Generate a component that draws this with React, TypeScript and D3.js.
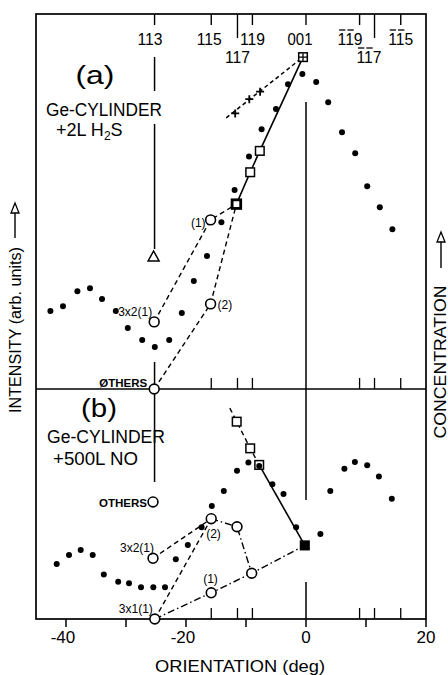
import React from 'react';
import * as d3 from 'd3';

// crystal directions: angle from [001] in deg, label, number of barred digits, label row
const dirAngle = [-25.24, -15.79, -11.42, -8.93, 0, 8.93, 11.42, 15.79];
const dirText = ['113', '115', '117', '119', '001', '119', '117', '115'];
const dirBars = [0, 0, 0, 0, 0, 2, 2, 2];
const dirRow = [0, 0, 1, 0, 0, 0, 1, 0];
const xTickLabels = [-40, -20, 0, 20];

// (a) Ge-cylinder + 2L H2S, intensity (arb. units 0-100)
const aDotDeg = [-42.6, -40.5, -38.1, -36.0, -34.0, -31.7, -29.7, -27.3, -25.2, -22.8, -20.7, -18.7, -16.5, -14.1, -11.9, -9.5, -7.4, -5.0, -3.0, -0.6, 1.7, 3.7, 6.0, 8.2, 10.2, 12.3, 14.4];
const aDotVal = [20.8, 22.1, 26.1, 26.9, 24.0, 20.8, 16.3, 13.1, 11.2, 13.1, 20.3, 28.8, 35.5, 44.5, 53.1, 62.0, 69.3, 74.7, 81.3, 84.0, 81.9, 76.5, 68.5, 62.9, 54.1, 48.5, 42.6];
const aSqDeg = [-11.6, -9.3, -7.7, -0.5];
const aSqVal = [49.3, 57.8, 63.5, 88.5];
const aCrossDeg = [-11.8, -9.45, -7.65];
const aCrossVal = [73.5, 77.3, 79.3];
const aCrossLineDeg = [-13.3, -0.5];
const aCrossLineVal = [72.3, 88.5];
const aCircName = ['3x2(1)', '(1)', '(2)', 'OTHERS'];
const aCircDeg = [-25.3, -15.9, -15.9, -25.3];
const aCircVal = [17.9, 45.1, 22.7, 0];
const aTriangle = [-25.4, 35.2];

// (b) Ge-cylinder + 500L NO
const bDotDeg = [-41.55, -39.5, -37.55, -35.55, -33.7, -31.3, -29.5, -27.5, -25.45, -23.5, -21.7, -19.7, -17.4, -15.7, -13.7, -11.5, -9.6, -7.8, -5.6, -3.75, -1.65, 2.4, 4.05, 6.4, 8.15, 10.2, 12.15, 14.3];
const bDotVal = [23.9, 27.8, 30.0, 27.8, 19.4, 16.2, 15.5, 13.8, 13.8, 13.8, 26.0, 32.2, 39.9, 49.1, 55.7, 64.5, 68.0, 66.5, 58.6, 54.3, 39.9, 37.0, 55.7, 65.3, 68.3, 66.8, 62.0, 52.3];
const bSqDeg = [-11.55, -9.3, -7.8];
const bSqVal = [85.8, 74.2, 67.0];
const bSqLead = [-12.7, 91.7];
const bFilledSq = [-0.2, 32.0];
const bCircName = ['OTHERS', '3x2(1)', '(2)', 'c117', 'c119', '(1)', '3x1(1)'];
const bCircDeg = [-25.5, -25.5, -15.8, -11.5, -9.05, -15.8, -25.2];
const bCircVal = [50.9, 26.4, 43.6, 40.1, 19.9, 11.4, 0];

const W = 448, H = 675;
const LEFT = 36, RIGHT = 426, TOP = 14, MID = 389, BOT = 619;
const FONT = '"Liberation Sans", Arial, sans-serif';
const labelNudge = [-4.5, -2, 0, 0, -6, -9.5, -5.5, 0];
const DASH = '5,3.5';
const DASHDOT = '7,3,1.5,3';

const Txt = ({ x, y, size = 12, anchor = 'start', len, weight = 400, children, transform }: any) => (
  <text x={x} y={y} fontSize={size} textAnchor={anchor} fontWeight={weight} fontFamily={FONT}
    textLength={len} lengthAdjust={len ? 'spacingAndGlyphs' : undefined} transform={transform} fill="#000">
    {children}
  </text>
);

export default function App() {
  const x = d3.scaleLinear().domain([-45, 20]).range([LEFT, RIGHT]);
  const yA = d3.scaleLinear().domain([0, 100]).range([MID, TOP]);
  const yB = d3.scaleLinear().domain([0, 100]).range([BOT, MID]);
  const lineA = d3.line<number[]>().x(d => x(d[0])).y(d => yA(d[1]));
  const lineB = d3.line<number[]>().x(d => x(d[0])).y(d => yB(d[1]));

  const aC = (n: string) => { const i = aCircName.indexOf(n); return [aCircDeg[i], aCircVal[i]]; };
  const bC = (n: string) => { const i = bCircName.indexOf(n); return [bCircDeg[i], bCircVal[i]]; };
  const aSq = aSqDeg.map((d, i) => [d, aSqVal[i]]);
  const bSq = bSqDeg.map((d, i) => [d, bSqVal[i]]);

  const circle = (cx: number, cy: number, k: string) => (
    <circle key={k} cx={cx} cy={cy} r={4.9} fill="#fff" stroke="#000" strokeWidth={1.6} />
  );
  const square = (cx: number, cy: number, k: string, sw = 1.5, fill = '#fff') => (
    <rect key={k} x={cx - 4.3} y={cy - 4.3} width={8.6} height={8.6} fill={fill} stroke="#000" strokeWidth={sw} />
  );
  const s = { stroke: '#000', fill: 'none' };

  const xTicks = x.ticks(7);
  const topLabelLen = 25;

  // guide lines at [113] and [001]
  const x113 = x(dirAngle[0]);
  const x001 = x(dirAngle[4]);

  return (
    <svg width={W} height={H} style={{ position: 'absolute', left: 0, top: 0, display: 'block', background: '#fff' }}>
      {/* frame */}
      <rect x={LEFT} y={TOP} width={RIGHT - LEFT} height={BOT - TOP} {...s} strokeWidth={1.7} />
      <line x1={LEFT} x2={RIGHT} y1={MID} y2={MID} {...s} strokeWidth={1.7} />

      {/* direction ticks: top border, panel divider, bottom axis */}
      {dirAngle.map((a, i) => (
        <g key={'dt' + i}>
          {i !== 4 && <line x1={x(a)} x2={x(a)} y1={TOP} y2={TOP + (dirRow[i] ? 24 : 11)} {...s} strokeWidth={1.4} />}
          {i !== 0 && i !== 4 && <line x1={x(a)} x2={x(a)} y1={MID} y2={MID - 11} {...s} strokeWidth={1.3} />}
          {i !== 0 && i !== 4 && <line x1={x(a)} x2={x(a)} y1={BOT} y2={BOT - 11} {...s} strokeWidth={1.3} />}
        </g>
      ))}
      <line x1={x001} x2={x001} y1={TOP} y2={TOP + 11} {...s} strokeWidth={1.4} />
      {dirText.map((t, i) => {
        const cx = x(dirAngle[i]) + labelNudge[i];
        const by = dirRow[i] ? 63 : 45;
        const dw = topLabelLen / 3;
        const left = cx - topLabelLen / 2;
        return (
          <g key={'dl' + i}>
            <Txt x={cx} y={by} size={17} anchor="middle" len={topLabelLen}>{t}</Txt>
            {d3.range(dirBars[i]).map(j => (
              <line key={j} x1={left + j * dw + 1.5} x2={left + (j + 1) * dw - 0.5} y1={by - 15} y2={by - 15} {...s} strokeWidth={1.3} />
            ))}
          </g>
        );
      })}

      {/* bottom axis */}
      {xTicks.map(v => (
        <line key={'xt' + v} x1={x(v)} x2={x(v)} y1={BOT} y2={BOT + 8} {...s} strokeWidth={1.5} />
      ))}
      {xTickLabels.map(v => (
        <Txt key={'xl' + v} x={x(v) + (v < 0 ? -3 : 0)} y={643} size={17} anchor="middle">{v < 0 ? '-' + Math.abs(v) : String(v)}</Txt>
      ))}
      <Txt x={240} y={672} size={17} anchor="middle" len={170}>ORIENTATION (deg)</Txt>

      {/* side labels */}
      <Txt x={0} y={0} size={16} anchor="middle" len={166} transform="translate(21,330) rotate(-90)">INTENSITY (arb. units)</Txt>
      <line x1={15} x2={15} y1={211} y2={238} {...s} strokeWidth={1.4} />
      <path d="M15,203 L11,213 L19,213 Z" fill="#fff" stroke="#000" strokeWidth={1.3} />
      <Txt x={0} y={0} size={16.5} anchor="middle" len={153} transform="translate(446,362) rotate(-90)">CONCENTRATION</Txt>
      <line x1={441} x2={441} y1={240} y2={268} {...s} strokeWidth={1.4} />
      <path d="M441,232 L437,242 L445,242 Z" fill="#fff" stroke="#000" strokeWidth={1.3} />

      {/* guide lines */}
      <line x1={x113} x2={x113} y1={57} y2={91} {...s} strokeWidth={1.5} />
      <line x1={x113} x2={x113} y1={124} y2={249} {...s} strokeWidth={1.5} />
      <line x1={x113} x2={x113} y1={362} y2={482} {...s} strokeWidth={1.5} />
      <line x1={x001} x2={x001} y1={102} y2={500} {...s} strokeWidth={1.5} />
      <line x1={x001} x2={x001} y1={582} y2={BOT} {...s} strokeWidth={1.5} />

      {/* panel (a) */}
      <Txt x={95} y={84} size={26} anchor="middle" len={39}>(a)</Txt>
      <Txt x={46} y={116} size={18} len={116}>Ge-CYLINDER</Txt>
      <text x={56} y={136} fontSize={18} fontFamily={FONT}>+2L H<tspan fontSize={12} dy={4}>2</tspan><tspan dy={-4}>S</tspan></text>

      <path d={lineA(aCrossLineDeg.map((d, i) => [d, aCrossLineVal[i]]))!} {...s} strokeWidth={1.5} strokeDasharray="4,3" />
      <path d={lineA(aSq)!} {...s} strokeWidth={1.6} />
      <path d={lineA([aC('3x2(1)'), aC('(1)'), aSq[0]])!} {...s} strokeWidth={1.4} strokeDasharray={DASH} />
      <path d={lineA([aC('OTHERS'), aC('(2)'), aSq[0]])!} {...s} strokeWidth={1.4} strokeDasharray={DASH} />

      {aDotDeg.map((d, i) => <circle key={'ad' + i} cx={x(d)} cy={yA(aDotVal[i])} r={3} fill="#000" />)}
      {aCrossDeg.map((d, i) => (
        <path key={'ac' + i} d={`M${x(d) - 4},${yA(aCrossVal[i])}h8M${x(d)},${yA(aCrossVal[i]) - 4}v8`} {...s} strokeWidth={1.8} />
      ))}
      {aSq.map((p, i) => square(x(p[0]), yA(p[1]), 'as' + i, i === 0 ? 2.8 : 1.5))}
      <path d={`M${x(aSq[3][0]) - 4},${yA(aSq[3][1])}h8M${x(aSq[3][0])},${yA(aSq[3][1]) - 4}v8`} {...s} strokeWidth={1.3} />
      {aCircName.map(n => circle(x(aC(n)[0]), yA(aC(n)[1]), 'aci' + n))}
      <path d={`M${x(aTriangle[0])},${yA(aTriangle[1]) - 6}l5.5,10h-11z`} fill="#fff" stroke="#000" strokeWidth={1.5} />

      <Txt x={x(aC('3x2(1)')[0]) - 2} y={yA(aC('3x2(1)')[1]) - 6} size={12} anchor="end">3x2(1)</Txt>
      <Txt x={x(aC('(1)')[0]) - 5} y={yA(aC('(1)')[1]) + 7} size={12} anchor="end">(1)</Txt>
      <Txt x={x(aC('(2)')[0]) + 7} y={yA(aC('(2)')[1]) + 5} size={12}>(2)</Txt>
      <Txt x={x(aC('OTHERS')[0]) - 7} y={yA(aC('OTHERS')[1]) - 2} size={11.5} anchor="end" weight={700}>ØTHERS</Txt>

      {/* panel (b) */}
      <Txt x={99} y={417} size={26} anchor="middle" len={36}>(b)</Txt>
      <Txt x={47} y={443} size={18} len={118}>Ge-CYLINDER</Txt>
      <Txt x={53} y={465} size={18} len={85}>+500L NO</Txt>

      <path d={lineB([bSqLead, ...bSq])!} {...s} strokeWidth={1.4} strokeDasharray={DASH} />
      <path d={lineB([bSq[2], bFilledSq])!} {...s} strokeWidth={1.6} />
      <path d={lineB([bC('3x2(1)'), bC('(2)')])!} {...s} strokeWidth={1.4} strokeDasharray={DASH} />
      <path d={lineB([bC('3x1(1)'), bC('(2)')])!} {...s} strokeWidth={1.4} strokeDasharray={DASH} />
      <path d={lineB([bC('(2)'), bC('c117'), bC('c119'), bFilledSq])!} {...s} strokeWidth={1.4} strokeDasharray={DASHDOT} />
      <path d={lineB([bC('3x1(1)'), bC('(1)'), bC('c119')])!} {...s} strokeWidth={1.4} strokeDasharray={DASHDOT} />

      {bSq.map((p, i) => square(x(p[0]), yB(p[1]), 'bs' + i))}
      {bDotDeg.map((d, i) => <circle key={'bd' + i} cx={x(d)} cy={yB(bDotVal[i])} r={3} fill="#000" />)}
      {square(x(bFilledSq[0]), yB(bFilledSq[1]), 'bfs', 1.5, '#000')}
      {bCircName.map(n => circle(x(bC(n)[0]), yB(bC(n)[1]), 'bci' + n))}

      <Txt x={x(bC('OTHERS')[0]) - 6} y={yB(bC('OTHERS')[1]) + 5} size={11.5} anchor="end" weight={700}>OTHERS</Txt>
      <Txt x={x(bC('3x2(1)')[0]) + 1} y={yB(bC('3x2(1)')[1]) - 6} size={12} anchor="end">3x2(1)</Txt>
      <Txt x={x(bC('(2)')[0]) - 5} y={yB(bC('(2)')[1]) + 19} size={12}>(2)</Txt>
      <Txt x={x(bC('(1)')[0]) - 8} y={yB(bC('(1)')[1]) - 10} size={12}>(1)</Txt>
      <Txt x={x(bC('3x1(1)')[0]) - 2} y={yB(bC('3x1(1)')[1]) - 6} size={12} anchor="end">3x1(1)</Txt>
    </svg>
  );
}
